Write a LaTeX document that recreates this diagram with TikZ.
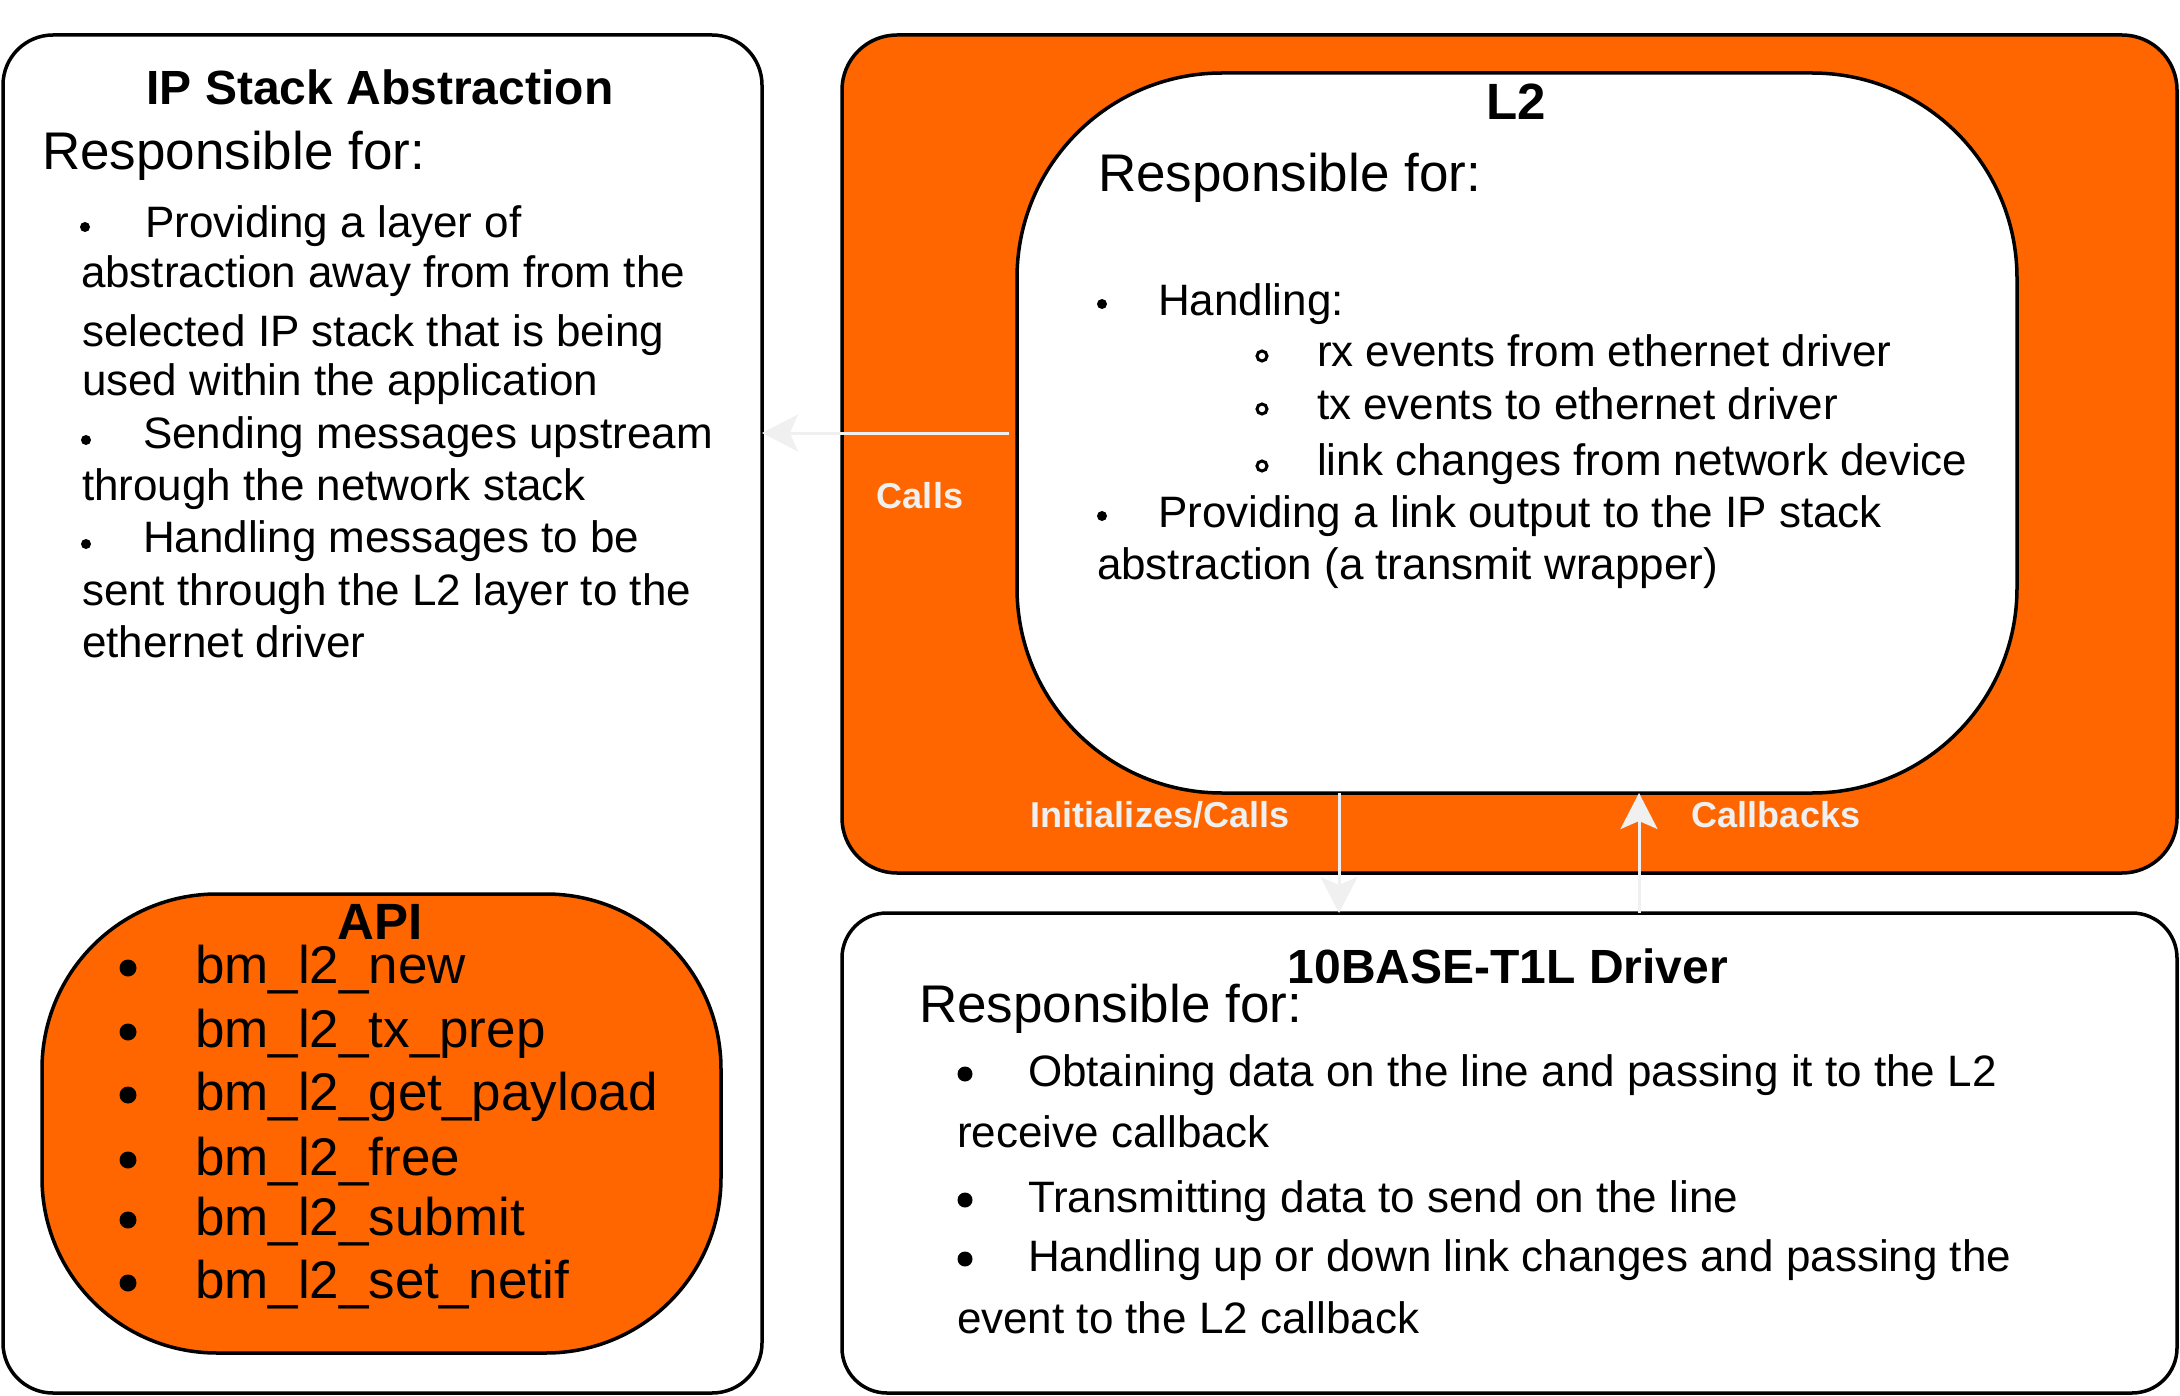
\documentclass[tikz,border=0pt]{standalone}
\usepackage{fontspec}
\setmainfont{Liberation Sans}
\usetikzlibrary{arrows.meta}
\definecolor{orng}{HTML}{FF6600}
\definecolor{lgrey}{HTML}{F0F0F0}
\begin{document}
\begin{tikzpicture}[x=0.5pt,y=-0.5pt,
  box/.style={draw=black, line width=1.75pt, inner sep=0pt, outer sep=0pt, rectangle},
  txt/.style={inner sep=0pt, outer sep=0pt, anchor=base west, font=\fontsize{22}{26}\selectfont},
  resp/.style={inner sep=0pt, outer sep=0pt, anchor=base west, font=\fontsize{26.5}{30}\selectfont},
  ttl/.style={inner sep=0pt, outer sep=0pt, anchor=base, font=\fontsize{24}{28}\selectfont\bfseries},
  ttlb/.style={inner sep=0pt, outer sep=0pt, anchor=base, font=\fontsize{25.5}{30}\selectfont\bfseries},
  apitxt/.style={inner sep=0pt, outer sep=0pt, anchor=base west, font=\fontsize{26.5}{30}\selectfont},
  lbl/.style={inner sep=0pt, outer sep=0pt, anchor=base, text=lgrey, font=\fontsize{18}{22}\selectfont\bfseries},
  arr/.style={draw=lgrey, line width=1.5pt, -{Stealth[length=18pt,width=18.5pt,inset=4pt]}},
  sdot/.style={fill=black},
  ring/.style={draw=black, line width=1.5pt},
]
\useasboundingbox (0,0) rectangle (2180,1396);

% boxes
\node[box, fill=white, minimum width=379.5pt, minimum height=679pt, rounded corners=25pt] (ip) at (382.5,714) {};
\node[box, fill=orng, minimum width=339.5pt, minimum height=229.5pt, rounded corners=87.5pt] (api) at (381.5,1123.5) {};
\node[box, fill=orng, minimum width=667.5pt, minimum height=419pt, rounded corners=27.5pt] (l2out) at (1509.5,454) {};
\node[box, fill=white, minimum width=500pt, minimum height=360pt, rounded corners=102.5pt] (l2) at (1517,433) {};
\node[box, fill=white, minimum width=667.5pt, minimum height=240pt, rounded corners=22.5pt] (drv) at (1509.5,1153) {};

% IP stack abstraction
\node[ttl] (ipt) at (380,105) {IP Stack Abstraction};
\node[resp] (ipr) at (42,170) {Responsible for:};
\fill[sdot] (85,227) circle (2.5pt);
\node[txt] (ip1) at (145,238) {Providing a layer of};
\node[txt] (ip2) at (81,288) {abstraction away from from the};
\node[txt] (ip3) at (82,347) {selected IP stack that is being};
\node[txt] (ip4) at (82,395) {used within the application};
\fill[sdot] (86,440) circle (2.5pt);
\node[txt] (ip5) at (143,448) {Sending messages upstream};
\node[txt] (ip6) at (82,500) {through the network stack};
\fill[sdot] (86,544) circle (2.5pt);
\node[txt] (ip7) at (143,552) {Handling messages to be};
\node[txt] (ip8) at (82,605) {sent through the L2 layer to the};
\node[txt] (ip9) at (82,657) {ethernet driver};

% API
\node[ttlb] (apit) at (380,939) {API};
\foreach \yy/\tt [count=\i] in {983/bm\_l2\_new, 1047/bm\_l2\_tx\_prep, 1110/bm\_l2\_get\_payload, 1175/bm\_l2\_free, 1235/bm\_l2\_submit, 1298/bm\_l2\_set\_netif}{
  \fill[sdot] (128,\yy-15) circle (4.25pt);
  \node[apitxt] (api\i) at (195,\yy) {\tt};
}

% L2
\node[ttlb] (l2t) at (1516,120) {L2};
\node[resp] (l2r) at (1098,192) {Responsible for:};
\fill[sdot] (1102,304) circle (2.5pt);
\node[txt] (l21) at (1158,315) {Handling:};
\draw[ring] (1262,356) circle (2.5pt);
\node[txt] (l22) at (1317,366) {rx events from ethernet driver};
\draw[ring] (1262,409) circle (2.5pt);
\node[txt] (l23) at (1317,419) {tx events to ethernet driver};
\draw[ring] (1262,466) circle (2.5pt);
\node[txt] (l24) at (1317,475) {link changes from network device};
\fill[sdot] (1102,516) circle (2.5pt);
\node[txt] (l25) at (1158,527) {Providing a link output to the IP stack};
\node[txt] (l26) at (1097,579) {abstraction (a transmit wrapper)};

% Driver
\node[ttl] (drvt) at (1508,983) {10BASE-T1L Driver};
\node[resp] (drvr) at (919,1022) {Responsible for:};
\fill[sdot] (965,1074) circle (3.75pt);
\node[txt] (d1) at (1028,1086) {Obtaining data on the line and passing it to the L2};
\node[txt] (d2) at (957,1147) {receive callback};
\fill[sdot] (965,1200) circle (3.75pt);
\node[txt] (d3) at (1028,1212) {Transmitting data to send on the line};
\fill[sdot] (965,1259) circle (3.75pt);
\node[txt] (d4) at (1028,1271) {Handling up or down link changes and passing the};
\node[txt] (d5) at (957,1333) {event to the L2 callback};

% connectors
\coordinate (icx) at (1339,0);
\coordinate (cbx) at (1639,0);
\draw[arr] ([xshift=-4pt]l2.west) -- (l2.west -| ip.east);
\draw[arr] (icx |- l2.south) -- (icx |- drv.north);
\draw[arr] (cbx |- drv.north) -- (cbx |- l2.south);

% labels
\node[lbl] (lc) at (920,508) {Calls};
\node[lbl] (lic) at (1160,827) {Initializes/Calls};
\node[lbl] (lcb) at (1776,827) {Callbacks};
\end{tikzpicture}
\end{document}
